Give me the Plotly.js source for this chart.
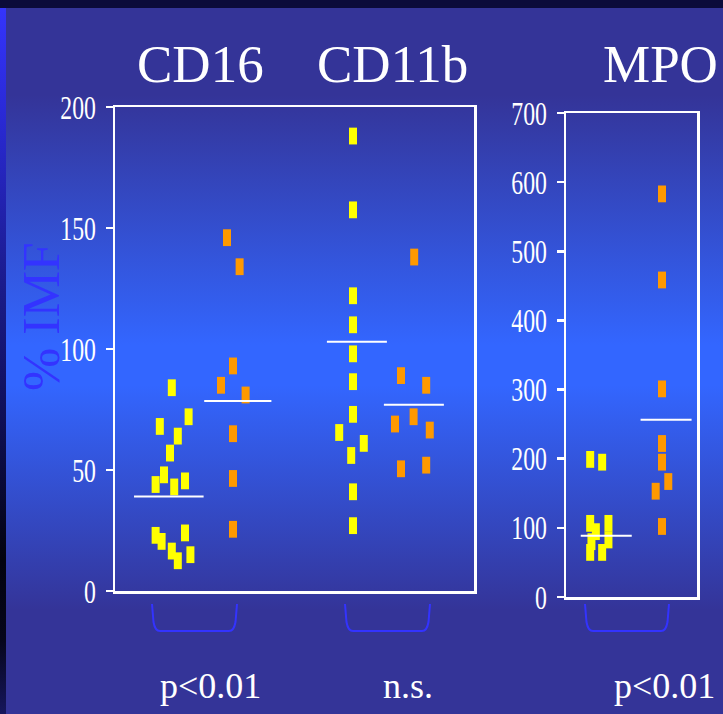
<!DOCTYPE html>
<html>
<head>
<meta charset="utf-8">
<script src="https://cdn.plot.ly/plotly-3.0.1.min.js"></script>
<style>
  html, body { margin: 0; padding: 0; }
  body {
    width: 723px; height: 714px; overflow: hidden;
    background:
      linear-gradient(#0b0b3a, #0b0b3a) 0 0 / 100% 8px no-repeat,
      linear-gradient(to bottom, #3535ff 0px, #2a2ad8 110px, #1d1d96 260px, #0f0f55 420px, #03030e 560px, #06061c 640px, #16165c 714px) 0 0 / 6px 100% no-repeat,
      linear-gradient(to bottom, #343498 0px, #343498 95px, #3366ff 345px, #3366ff 385px, #343498 610px, #343498 714px);
  }
  #chart { width: 723px; height: 714px; }
</style>
</head>
<body>
<div id="chart"></div>
<script>
// Panel headings and significance labels
const panelTitles = ['CD16', 'CD11b', 'MPO'];
const pLabels = ['p<0.01', 'n.s.', 'p<0.01'];

// Group positions on each panel's x axis
const leftGroupPos = [1, 2, 4, 5];   // CD16 yellow, CD16 orange, CD11b yellow, CD11b orange
const rightGroupPos = [1, 2];        // MPO yellow, MPO orange

// CD16 (% IMF)
const cd16Yellow = [84, 72, 68, 64, 57, 48, 44, 43, 45.5, 23, 20.5, 24, 16.5, 12.5, 15];
const cd16YellowJitter = [-0.02, 0.26, -0.22, 0.08, -0.05, -0.15, -0.29, 0.02, 0.2, -0.29, -0.19, 0.2, -0.02, 0.08, 0.29];
const cd16Orange = [146, 134, 93, 85, 81, 65, 46.5, 25.5];
const cd16OrangeJitter = [-0.1, 0.11, 0, -0.2, 0.21, 0, 0, 0];
const cd16Means = [39, 78.5];

// CD11b (% IMF)
const cd11bYellow = [188, 157.5, 122, 110, 98, 86.5, 73, 65.5, 61, 56, 41, 27];
const cd11bYellowJitter = [0, 0, 0, 0, 0, 0, 0, -0.23, 0.18, -0.03, 0, 0];
const cd11bOrange = [138, 89, 85, 69, 72, 66.5, 50.5, 52];
const cd11bOrangeJitter = [0.02, -0.2, 0.22, -0.3, 0.01, 0.28, -0.2, 0.22];
const cd11bMeans = [103, 77];

// MPO
const mpoYellow = [199, 195, 106.5, 106.5, 94.5, 80, 82.5, 64.5, 64.5];
const mpoYellowJitter = [-0.14, 0.05, -0.14, 0.15, -0.05, -0.12, 0.15, -0.14, 0.05];
const mpoOrange = [583, 458.5, 301, 222, 195, 167, 153, 102];
const mpoOrangeJitter = [0, 0, 0, 0, 0, 0.1, -0.1, 0];
const mpoMeans = [88.5, 256.5];

const leftTicks = [0, 50, 100, 150, 200];
const rightTicks = [0, 100, 200, 300, 400, 500, 600, 700];

// ---- styling ----
const W = 723, H = 714;
const px = x => x / W;
const py = y => 1 - y / H;
const YELLOW = '#ffff00', ORANGE = '#ff9900', WHITE = '#ffffff', BRACKET = '#3333ff';
const SERIF = '"Liberation Serif", "Times New Roman", serif';
const TICK_SQUEEZE = 0.72;   // narrow, tall tick numerals
const TICK_SHIFT = -3;

function dots(base, jitter, values, color, xa, ya) {
  return {
    type: 'scatter', mode: 'markers', xaxis: xa, yaxis: ya,
    x: values.map((v, i) => base + jitter[i]), y: values,
    marker: { symbol: 'line-ns', size: 12, color: color, line: { color: color, width: 8 } },
    hoverinfo: 'y', showlegend: false, cliponaxis: false
  };
}
// mean bar: centre shift and half-width in axis units
function meanBar(base, shift, half, value, xa, ya) {
  return {
    type: 'scatter', mode: 'lines', xaxis: xa, yaxis: ya,
    x: [base + shift - half, base + shift + half], y: [value, value],
    line: { color: WHITE, width: 2 }, hoverinfo: 'skip', showlegend: false
  };
}

const traces = [
  dots(leftGroupPos[0], cd16YellowJitter, cd16Yellow, YELLOW, 'x', 'y'),
  dots(leftGroupPos[1], cd16OrangeJitter, cd16Orange, ORANGE, 'x', 'y'),
  dots(leftGroupPos[2], cd11bYellowJitter, cd11bYellow, YELLOW, 'x', 'y'),
  dots(leftGroupPos[3], cd11bOrangeJitter, cd11bOrange, ORANGE, 'x', 'y'),
  meanBar(leftGroupPos[0], -0.07, 0.58, cd16Means[0], 'x', 'y'),
  meanBar(leftGroupPos[1], 0.08, 0.56, cd16Means[1], 'x', 'y'),
  meanBar(leftGroupPos[2], 0.065, 0.5, cd11bMeans[0], 'x', 'y'),
  meanBar(leftGroupPos[3], 0.015, 0.5, cd11bMeans[1], 'x', 'y'),
  dots(rightGroupPos[0], mpoYellowJitter, mpoYellow, YELLOW, 'x2', 'y2'),
  dots(rightGroupPos[1], mpoOrangeJitter, mpoOrange, ORANGE, 'x2', 'y2'),
  meanBar(rightGroupPos[0], 0.115, 0.405, mpoMeans[0], 'x2', 'y2'),
  meanBar(rightGroupPos[1], 0.065, 0.405, mpoMeans[1], 'x2', 'y2')
];

const frameX = {
  showline: true, mirror: true, linecolor: WHITE, linewidth: 2.5,
  showticklabels: false, ticks: '', showgrid: false, zeroline: false, fixedrange: true
};
const frameY = {
  showline: true, mirror: true, linecolor: WHITE, linewidth: 2.5,
  ticks: 'outside', ticklen: 7, tickwidth: 2.5, tickcolor: WHITE,
  tickfont: { family: SERIF, size: 33, color: WHITE },
  showgrid: false, zeroline: false, fixedrange: true
};

// bracket under a pair of columns, from left x to right x (pixels)
function bracket(x1, x2) {
  const top = 604, bot = 631;
  const pts = [
    'M', px(x1), py(top),
    'L', px(x1 + 1.5), py(bot - 9),
    'Q', px(x1 + 3), py(bot), px(x1 + 8), py(bot),
    'L', px(x2 - 8), py(bot),
    'Q', px(x2 - 3), py(bot), px(x2 - 1.5), py(bot - 9),
    'L', px(x2), py(top)
  ];
  let d = '';
  for (let i = 0; i < pts.length; i++) {
    const t = pts[i];
    if (typeof t === 'string') d += t + ' ';
    else { d += t.toFixed(5) + (typeof pts[i + 1] === 'number' ? ',' : ' '); }
  }
  return {
    type: 'path', xref: 'paper', yref: 'paper', path: d.trim(),
    line: { color: BRACKET, width: 2 }, layer: 'above'
  };
}

function label(text, x, y, size, color, angle) {
  return {
    text: text, xref: 'paper', yref: 'paper', x: px(x), y: py(y),
    xanchor: 'center', yanchor: 'middle', showarrow: false,
    textangle: angle || 0, font: { family: SERIF, size: size, color: color }
  };
}

const layout = {
  width: W, height: H,
  margin: { l: 0, r: 0, t: 0, b: 0 },
  paper_bgcolor: 'rgba(0,0,0,0)', plot_bgcolor: 'rgba(0,0,0,0)',
  showlegend: false,
  xaxis: Object.assign({}, frameX, { domain: [px(115), px(474)], range: [0.033, 6.017], anchor: 'y' }),
  yaxis: Object.assign({}, frameY, { domain: [py(591), py(107)], range: [0, 200], tickvals: leftTicks, anchor: 'x' }),
  xaxis2: Object.assign({}, frameX, { domain: [px(566), px(697)], range: [0.476, 2.556], anchor: 'y2' }),
  yaxis2: Object.assign({}, frameY, { domain: [py(597), py(113)], range: [0, 700], tickvals: rightTicks, anchor: 'x2' }),
  annotations: [
    label(panelTitles[0], 200, 64, 53, WHITE),
    label(panelTitles[1], 393, 64, 53, WHITE),
    label(panelTitles[2], 660, 64, 53, WHITE),
    label('% IMF', 41, 317, 52, '#3333ff', -90),
    label(pLabels[0], 210, 686, 36, WHITE),
    label(pLabels[1], 408, 686, 36, WHITE),
    label(pLabels[2], 664, 686, 36, WHITE)
  ],
  shapes: [bracket(152, 237), bracket(345, 430), bracket(585, 669)]
};

// squeeze the tick numerals horizontally, keeping their right edge anchored
function squeezeTicks(gd) {
  gd.querySelectorAll('.yaxislayer-above text').forEach(t => {
    const x = parseFloat(t.getAttribute('x')) || 0;
    const base = t.getAttribute('transform') || '';
    t.setAttribute('transform',
      base + ' translate(' + (x * (1 - TICK_SQUEEZE) + TICK_SHIFT) + ',0) scale(' + TICK_SQUEEZE + ',1)');
  });
}

Plotly.newPlot('chart', traces, layout, { displayModeBar: false, staticPlot: true })
  .then(squeezeTicks);
</script>
</body>
</html>
